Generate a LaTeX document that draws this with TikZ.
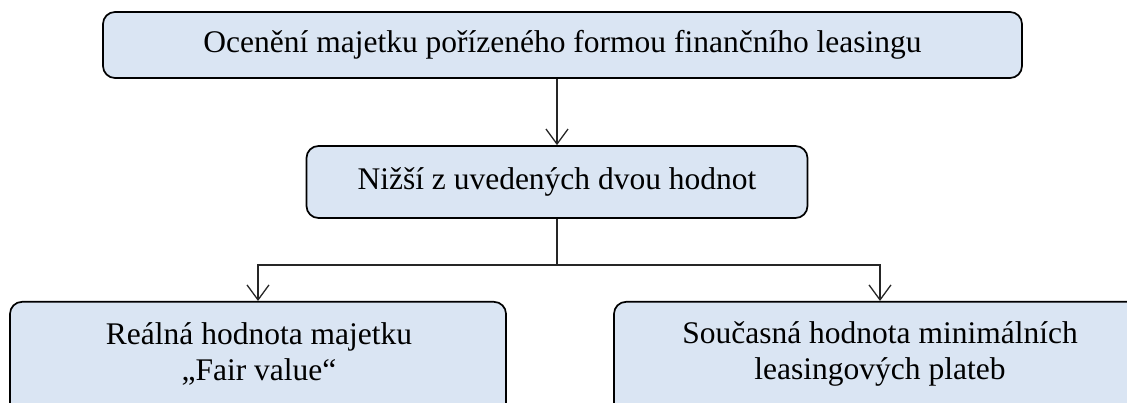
\documentclass[tikz,border=0pt]{standalone}
\usepackage{fontspec}
\setmainfont{Liberation Serif}
\usetikzlibrary{arrows.meta}
\definecolor{boxfill}{RGB}{218,229,243}
\begin{document}
\begin{tikzpicture}[x=1pt,y=-1pt,
  box/.style={draw=black, line width=1.7pt, fill=boxfill, rounded corners=12pt, inner sep=0pt},
  lbl/.style={font=\fontsize{31.5}{36}\selectfont, align=center, inner sep=0pt},
  conn/.style={line width=1.3pt, draw=black!85},
  arr/.style={conn, -{Straight Barb[length=15pt,width=22pt]}}]
\useasboundingbox (0,0) rectangle (1127,403);
\clip (0,0) rectangle (1127,403);
\node[box, lbl, minimum width=919pt, minimum height=66pt] (top) at (562.5,45) {Ocenění majetku pořízeného formou finančního leasingu};
\node[box, lbl, minimum width=501pt, minimum height=72pt] (mid) at (557,182) {Nižší z uvedených dvou hodnot};
\node[box, minimum width=496pt, minimum height=130pt, anchor=north] (lbox) at (258,301) {};
\node[lbl] (ltext) at (259,354) {Reálná hodnota majetku\\„Fair value“};
\node[box, minimum width=532pt, minimum height=130pt, anchor=north] (rbox) at (880,301) {};
\node[lbl] (rtext) at (880,354) {Současná hodnota minimálních\\leasingových plateb};
\coordinate (j) at (557,265);
\draw[arr] (mid.north |- top.south) -- (mid.north);
\draw[conn] (mid.south) -- (mid.south |- j);
\draw[arr] (j) -| (lbox.north);
\draw[arr] (j) -| (rbox.north);
\end{tikzpicture}
\end{document}
